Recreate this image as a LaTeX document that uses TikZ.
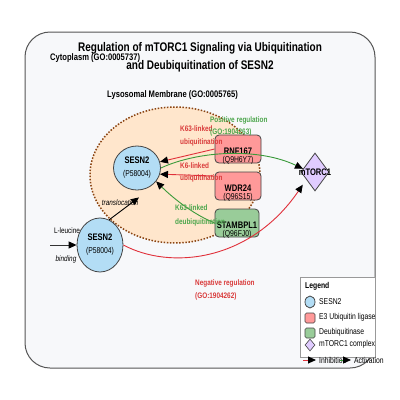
\documentclass[tikz,border=0pt]{standalone}
\usepackage{fontspec}
\setmainfont[FakeStretch=0.8]{Liberation Sans}
\usetikzlibrary{shapes.geometric,arrows.meta}
\definecolor{bgc}{HTML}{F7F8FA}
\definecolor{framec}{HTML}{555555}
\definecolor{lyso}{HTML}{FFE6CC}
\definecolor{lysoedge}{HTML}{8B4513}
\definecolor{sesnfill}{HTML}{B3DDF5}
\definecolor{e3fill}{HTML}{FF9999}
\definecolor{dubfill}{HTML}{99CC99}
\definecolor{mtfill}{HTML}{E0CCFF}
\definecolor{nodeedge}{HTML}{444444}
\definecolor{redl}{HTML}{E0303A}
\definecolor{greenl}{HTML}{3A9A3A}
\definecolor{redt}{HTML}{D93A3A}
\definecolor{greent}{HTML}{4CA64C}
\definecolor{legedge}{HTML}{999999}
\tikzset{
  sesn/.style={ellipse, draw=nodeedge, fill=sesnfill, line width=0.8pt, inner sep=0pt, align=center},
  ebox/.style={rectangle, rounded corners=4pt, draw=nodeedge, line width=0.8pt, minimum width=46pt, minimum height=28pt, inner sep=0pt},
  boxname/.style={font=\fontsize{9.5}{11}\selectfont\bfseries, inner sep=0pt},
  boxid/.style={font=\fontsize{8.5}{10}\selectfont, inner sep=0pt},
  lbl/.style={font=\fontsize{8}{9}\selectfont\bfseries, anchor=west, inner sep=0pt},
  region/.style={font=\fontsize{9.5}{11}\selectfont\bfseries, anchor=west, inner sep=0pt},
  ttl/.style={font=\fontsize{12.5}{14}\selectfont\bfseries, inner sep=0pt},
  arr/.style={line width=0.9pt, -{Triangle[length=8pt,width=7pt,black]}},
  legtext/.style={font=\fontsize{8.5}{10}\selectfont, anchor=west, inner sep=0pt},
  ital/.style={font=\fontsize{8}{9}\selectfont\itshape, inner sep=0pt},
  plain/.style={font=\fontsize{8}{9}\selectfont, inner sep=0pt}
}
\begin{document}
\begin{tikzpicture}[x=1pt,y=-1pt]
\useasboundingbox (0,0) rectangle (400,400);
% cytoplasm frame
\draw[rounded corners=25pt, fill=bgc, draw=framec, line width=1pt] (25,32) rectangle (375,368);
\node[ttl] (t1) at (200,48) {Regulation of mTORC1 Signaling via Ubiquitination};
\node[ttl] (t2) at (200,66) {and Deubiquitination of SESN2};
\node[region] (cyto) at (50,58) {Cytoplasm (GO:0005737)};
% lysosome
\node[ellipse, minimum width=170pt, minimum height=136pt, fill=lyso, draw=lysoedge, line width=1.5pt, dash pattern=on 1.5pt off 1.6pt] (lyso) at (175,175) {};
\node[region] (lysolbl) at (107,95) {Lysosomal Membrane (GO:0005765)};
% nodes
\node[sesn, minimum width=47pt, minimum height=44pt] (sesnA) at (137,168) {{\fontsize{9.5}{11}\selectfont\bfseries SESN2}\\[1pt]{\fontsize{8.5}{10}\selectfont (P58004)}};
\node[sesn, minimum width=46pt, minimum height=54pt] (sesnB) at (100,245) {{\fontsize{9.5}{11}\selectfont\bfseries SESN2}\\[1pt]{\fontsize{8.5}{10}\selectfont (P58004)}};
\node[ebox, fill=e3fill] (rnf) at (238,149) {};
\node[boxname] (rnfname) at ([yshift=-2pt]rnf.center) {RNF167};
\node[boxid] (rnfid) at ([yshift=3pt]rnf.south) {(Q9H6Y7)};
\node[ebox, fill=e3fill] (wdr) at (238,186) {};
\node[boxname] (wdrname) at ([yshift=-2pt]wdr.center) {WDR24};
\node[boxid] (wdrid) at ([yshift=3pt]wdr.south) {(Q96S15)};
\node[ebox, fill=dubfill, minimum width=44pt] (stam) at (237,223) {};
\node[boxname] (stamname) at ([yshift=-2pt]stam.center) {STAMBPL1};
\node[boxid] (stamid) at ([yshift=3pt]stam.south) {(Q96FJ0)};
\node[diamond, draw=nodeedge, fill=mtfill, line width=0.8pt, minimum width=28pt, minimum height=38pt, inner sep=0pt] (mtor) at (315,172) {};
\node[boxname] (mtorlbl) at (mtor.center) {mTORC1};
% input
\coordinate (leu) at (50,245);
\draw[arr, draw=black!80] (leu) -- (sesnB.west);
\node[plain] (leulbl) at (67,231) {L-leucine};
\node[ital] (bindlbl) at (66,259) {binding};
% edges
\draw[arr, draw=black] (sesnB.70) -- ([shift={(2pt,-7pt)}]sesnA.south);
\node[ital] (translbl) at (120,203) {translocation};
\draw[arr, draw=redl] (rnf.west) -- (sesnA.15);
\draw[arr, draw=redl] ([yshift=10pt]wdr.west) -- (sesnA.-15);
\draw[arr, draw=greenl] (stam.west) .. controls (195,215) and (175,200) .. (sesnA.-35);
\draw[arr, draw=greenl] (sesnA.east) .. controls (200,150) and (260,148) .. (mtor.165);
\draw[arr, draw=redl] (sesnB.east) .. controls (170,270) and (250,262) .. ([shift={(-5pt,-3pt)}]mtor.south west);
% labels
\node[lbl, text=redt] (l1a) at (180,129) {K63-linked};
\node[lbl, text=redt] (l1b) at (180,142) {ubiquitination};
\node[lbl, text=redt] (l2a) at (180,166) {K6-linked};
\node[lbl, text=redt] (l2b) at (180,178) {ubiquitination};
\node[lbl, text=greent] (l3a) at (175,208) {K63-linked};
\node[lbl, text=greent] (l3b) at (175,222) {deubiquitination};
\node[lbl, text=greent] (posa) at (210,120) {Positive regulation};
\node[lbl, text=greent] (posb) at (210,132) {(GO:1904263)};
\node[lbl, text=redt] (nega) at (195,283) {Negative regulation};
\node[lbl, text=redt] (negb) at (195,296) {(GO:1904262)};
% legend
\node[draw=legedge, fill=white, line width=0.8pt, minimum width=75pt, minimum height=80pt, anchor=north west, inner sep=0pt] (legend) at (300,277) {};
\node[lbl, font=\fontsize{8.5}{10}\selectfont\bfseries] (legt) at (305,286) {Legend};
\node[sesn, minimum width=10pt, minimum height=12pt] (lg1) at (310,302) {};
\node[legtext] (lg1t) at (319,302) {SESN2};
\node[rectangle, rounded corners=1.5pt, draw=nodeedge, fill=e3fill, line width=0.6pt, minimum size=10pt, inner sep=0pt] (lg2) at (310,318) {};
\node[legtext] (lg2t) at (319,317) {E3 Ubiquitin ligase};
\node[rectangle, rounded corners=1.5pt, draw=nodeedge, fill=dubfill, line width=0.6pt, minimum size=10pt, inner sep=0pt] (lg3) at (310,333) {};
\node[legtext] (lg3t) at (319,332) {Deubiquitinase};
\node[diamond, draw=nodeedge, fill=mtfill, line width=0.6pt, minimum width=10pt, minimum height=12pt, inner sep=0pt] (lg4) at (310,345) {};
\node[legtext] (lg4t) at (319,344) {mTORC1 complex};
\coordinate (ia) at (303,360);
\coordinate (ib) at (316,360);
\draw[redl, line width=0.9pt, -{Triangle[length=8pt,width=7pt,black]}] (ia) -- (ib);
\node[legtext] (inh) at (319,360) {Inhibition};
\coordinate (aa) at (340,360);
\coordinate (ab) at (351,360);
\draw[greenl, line width=0.9pt, -{Triangle[length=8pt,width=7pt,black]}] (aa) -- (ab);
\node[legtext] (act) at (354,360) {Activation};
\end{tikzpicture}
\end{document}
